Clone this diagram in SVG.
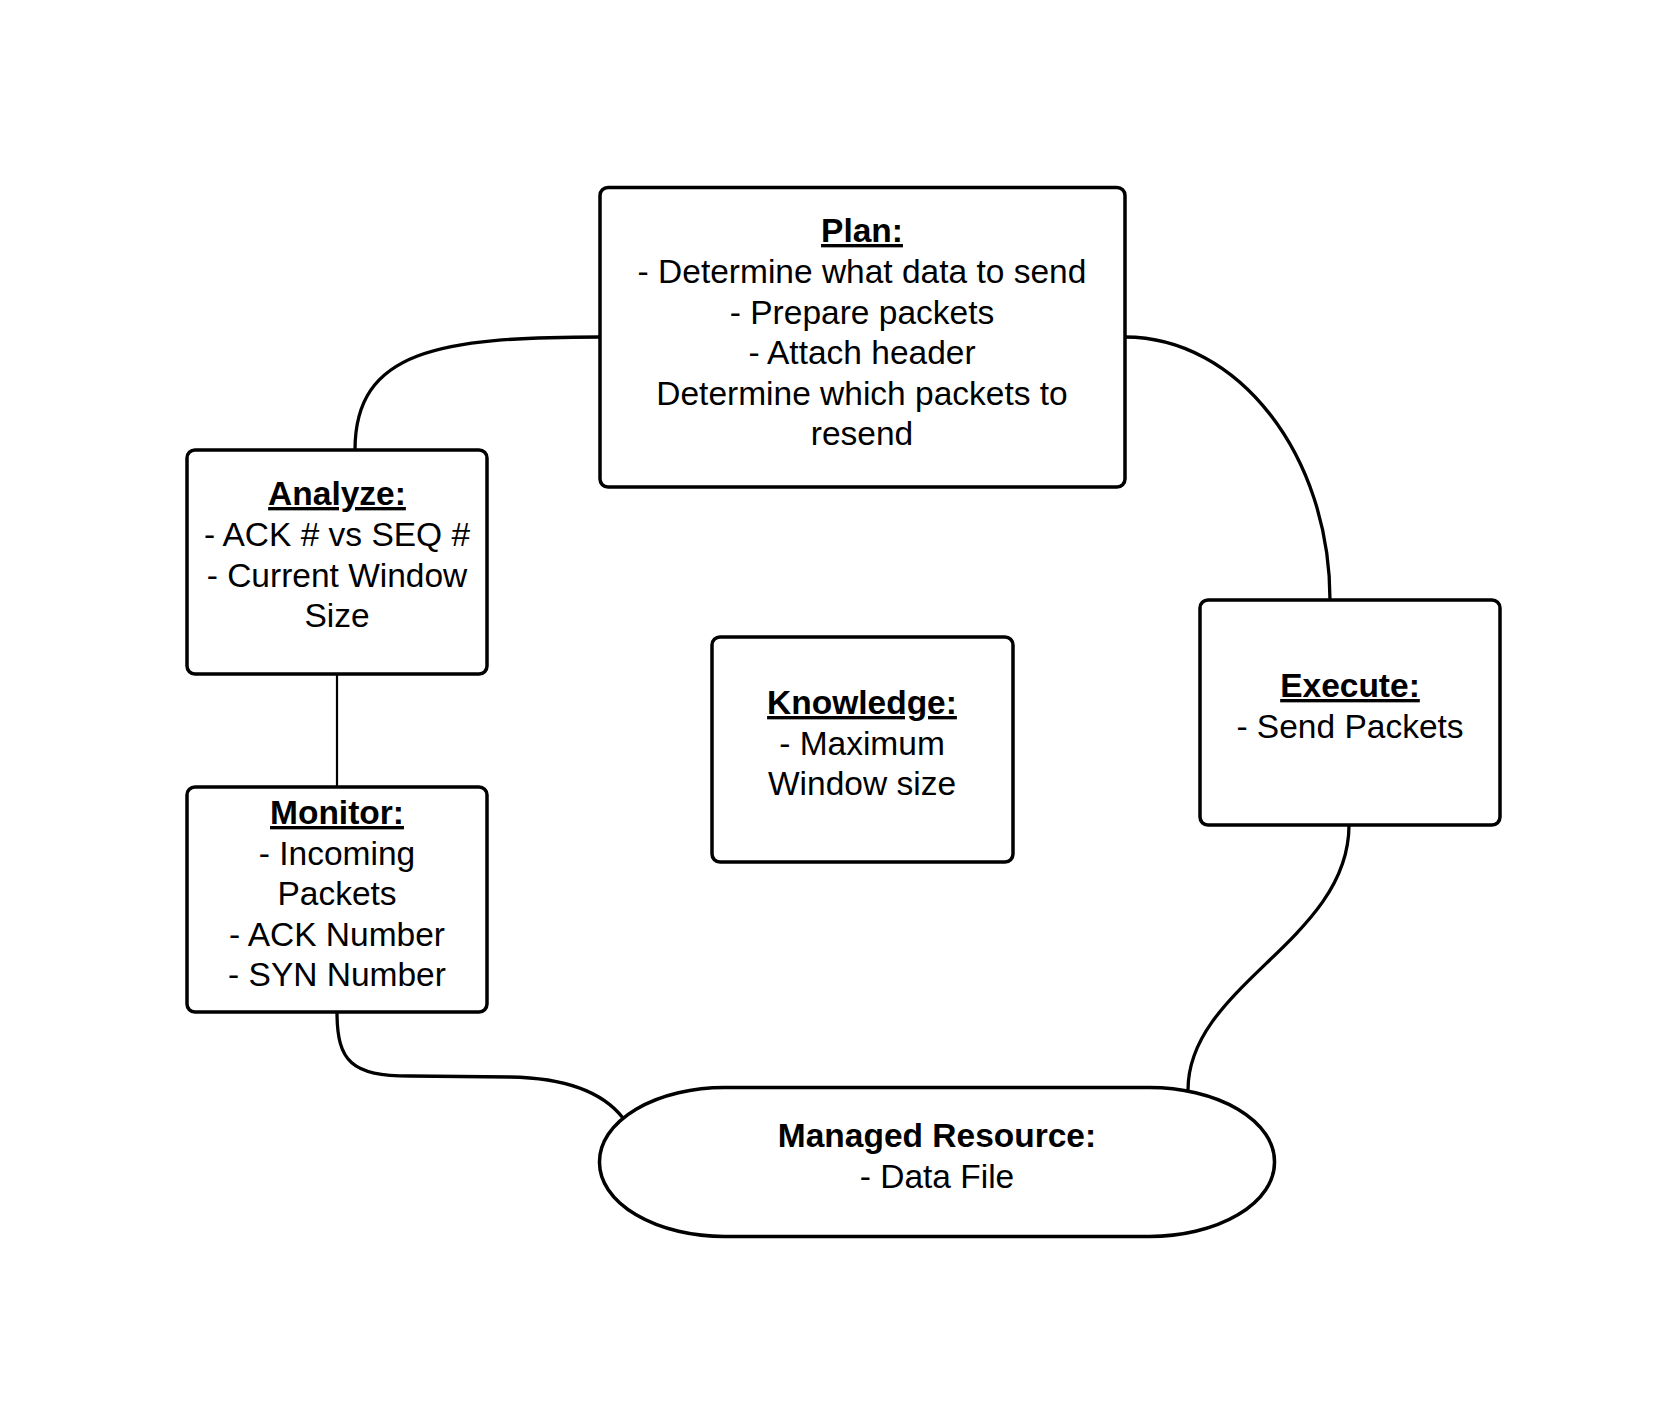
<svg xmlns="http://www.w3.org/2000/svg" width="1667" height="1409" viewBox="0 0 1667 1409">
<style>
.box{fill:#fff;stroke:#000;stroke-width:3.5}
.con{fill:none;stroke:#000;stroke-width:3.3}
.thin{fill:none;stroke:#000;stroke-width:2.2}
text{font-family:"Liberation Sans",Arial,sans-serif;font-size:33.5px;text-anchor:middle;fill:#000}
.t{font-weight:bold;text-decoration:underline}
.b{font-weight:bold}
</style>
<rect width="1667" height="1409" fill="#fff"/>
<g id="connectors">
<path class="con" d="M600,337 C440,337 355,350 355,450"/>
<path class="con" d="M1125,337 C1238,337 1330,455 1330,600"/>
<path class="thin" d="M337,674 L337,787"/>
<path class="con" d="M1349,825 C1349,940 1188,985 1188,1090"/>
<path class="con" d="M337,1012 C337,1062 352,1076 410,1076 L510,1077 C570,1078 605,1095 623,1118"/>
</g>
<g id="plan">
<rect class="box" x="600" y="187.5" width="525" height="299.5" rx="8"/>
<text x="862" y="242" class="t">Plan:</text>
<text x="862" y="283">- Determine what data to send</text>
<text x="862" y="323.5">- Prepare packets</text>
<text x="862" y="364">- Attach header</text>
<text x="862" y="404.5">Determine which packets to</text>
<text x="862" y="445">resend</text>
</g>
<g id="analyze">
<rect class="box" x="187" y="450" width="300" height="224" rx="8"/>
<text x="337" y="505" class="t">Analyze:</text>
<text x="337" y="546">- ACK # vs SEQ #</text>
<text x="337" y="586.5">- Current Window</text>
<text x="337" y="627">Size</text>
</g>
<g id="monitor">
<rect class="box" x="187" y="787" width="300" height="225" rx="8"/>
<text x="337" y="824" class="t">Monitor:</text>
<text x="337" y="864.5">- Incoming</text>
<text x="337" y="905">Packets</text>
<text x="337" y="945.5">- ACK Number</text>
<text x="337" y="986">- SYN Number</text>
</g>
<g id="knowledge">
<rect class="box" x="712" y="637" width="301" height="225" rx="8"/>
<text x="862" y="714" class="t">Knowledge:</text>
<text x="862" y="754.5">- Maximum</text>
<text x="862" y="795">Window size</text>
</g>
<g id="execute">
<rect class="box" x="1200" y="600" width="300" height="225" rx="8"/>
<text x="1350" y="697" class="t">Execute:</text>
<text x="1350" y="737.5">- Send Packets</text>
</g>
<g id="managed">
<rect class="box" x="599.5" y="1087.5" width="675" height="149" rx="125" ry="74"/>
<text x="937" y="1147" class="b">Managed Resource:</text>
<text x="937" y="1187.5">- Data File</text>
</g>
</svg>
